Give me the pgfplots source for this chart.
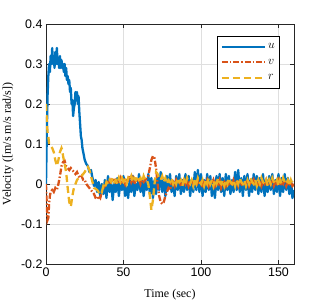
\documentclass[border=0pt]{standalone}
\usepackage{pgfplots}
\pgfplotsset{compat=1.18}
\usepackage{fontspec}
\setmainfont{Liberation Serif}
\newfontfamily\tickfont{Liberation Sans}
\definecolor{mblue}{rgb}{0,0.447,0.741}
\definecolor{morange}{rgb}{0.85,0.325,0.098}
\definecolor{myellow}{rgb}{0.929,0.694,0.125}
\begin{document}
\begin{tikzpicture}
\begin{axis}[
  scale only axis,
  width=248bp, height=240bp,
  xmin=0, xmax=160, ymin=-0.2, ymax=0.4,
  xtick={0,50,100,150},
  ytick={-0.2,-0.1,0,0.1,0.2,0.3,0.4},
  yticklabels={-0.2,-0.1,0,0.1,0.2,0.3,0.4},
  xticklabels={0,50,100,150},
  tick label style={font=\fontsize{12.5}{14}\tickfont},
  grid=major,
  major grid style={gray!25, line width=0.6pt},
  axis line style={black!85, line width=0.6pt},
  tick style={black!85},
  major tick length=4bp,
  every axis y label/.style={at={(axis description cs:-0.153,0.5)}, rotate=90, anchor=center, font=\fontsize{12}{14}\selectfont},
  every axis x label/.style={at={(axis description cs:0.5,-0.127)}, anchor=center, font=\fontsize{12}{14}\selectfont},
  xlabel={Time (sec)},
  ylabel={Velocity ([m/s m/s rad/s])},
  legend style={at={(axis description cs:0.944,0.95)}, anchor=north east, draw=black, line width=0.7pt, fill=white, font=\fontsize{12}{14}\selectfont, row sep=5bp, inner xsep=3bp, inner ysep=5bp},
  legend cell align=left,
  legend image code/.code={\draw[#1] (0bp,0bp) -- (43bp,0bp);},
]
\addplot[mblue, line width=2.3bp, line join=round] coordinates {
(0,0.0)(0.5,0.12)(1,0.22)(1.5,0.27)(2,0.30)(2.5,0.28)(3,0.32)(3.5,0.30)(4,0.34)(4.5,0.30)(5,0.32)(5.5,0.29)(6,0.33)(6.5,0.30)(7,0.34)(7.5,0.30)(8,0.31)(8.5,0.29)(9,0.32)(9.5,0.29)(10,0.31)(10.5,0.29)(11,0.30)(11.5,0.28)(12,0.30)(12.5,0.27)(13,0.29)(13.5,0.26)(14,0.27)(14.5,0.25)(15,0.26)(15.5,0.23)(16,0.24)(16.5,0.20)(17,0.21)(17.5,0.17)(18,0.19)(18.5,0.20)(19,0.23)(19.5,0.21)(20,0.23)(20.5,0.20)(21,0.22)(21.5,0.18)(22,0.15)(22.5,0.12)(23,0.11)(23.5,0.09)(24,0.08)(25,0.06)(26,0.05)(27,0.045)(28,0.03)(29,0.035)
(30,0.015)(31,-0.005)(32,0.01)(33,-0.02)(34,0.005)(35,-0.03)(36,0.0)(37,-0.025)(38,0.01)(39,-0.035)(40,0.02)(41,-0.02)(42,0.005)(43,-0.04)(44,0.0)(45,-0.02)(46,0.015)(47,-0.03)(48,0.005)(49,-0.015)(50,0.02)(51,-0.03)(52,-0.005)(53,-0.035)(54,0.01)(55,-0.02)(56,0.02)(57,-0.03)(58,0.0)(59,-0.015)(60,0.025)(61,-0.02)(62,0.01)(63,-0.03)(64,0.005)(65,-0.015)(66,0.025)(67,-0.025)(68,0.015)(69,-0.035)(70,0.01)(71,-0.025)(72,0.02)(73,-0.015)(74,0.03)(75,-0.02)(76,0.01)(77,-0.03)(78,0.02)(79,-0.01)(80,0.025)(81,-0.02)(82,0.005)(83,-0.03)(84,0.02)(85,-0.015)(86,0.025)(87,-0.025)(88,0.01)(89,-0.02)(90,0.025)(91,-0.015)(92,0.02)(93,-0.03)(94,0.01)(95,-0.02)(96,0.03)(97,-0.015)(98,0.035)(99,-0.02)(100,0.025)(101,-0.03)(102,0.01)(103,-0.02)(104,0.025)(105,-0.015)(106,0.02)(107,-0.03)(108,0.01)(109,-0.035)(110,0.02)(111,-0.015)(112,0.025)(113,-0.02)(114,0.015)(115,-0.03)(116,0.025)(117,-0.015)(118,0.02)(119,-0.025)(120,0.01)(121,-0.02)(122,0.03)(123,-0.015)(124,0.035)(125,-0.02)(126,0.015)(127,-0.03)(128,0.02)(129,-0.015)(130,0.025)(131,-0.03)(132,0.01)(133,-0.02)(134,0.025)(135,-0.015)(136,0.02)(137,-0.025)(138,0.015)(139,-0.02)(140,0.025)(141,-0.03)(142,0.01)(143,-0.02)(144,0.02)(145,-0.015)(146,0.025)(147,-0.025)(148,0.01)(149,-0.02)(150,0.025)(151,-0.03)(152,0.015)(153,-0.02)(154,0.025)(155,-0.015)(156,0.015)(157,-0.025)(158,0.01)(159,-0.035)(160,-0.015)
};
\addlegendentry{$u$}
\addplot[morange, line width=2.3bp, dash pattern=on 6bp off 2bp on 1.5bp off 2bp] coordinates {
(0,0.0)(0.5,-0.05)(1,-0.09)(1.5,-0.085)(2,-0.05)(2.5,-0.03)(3,-0.02)(4,-0.015)(5,-0.02)(6,-0.01)(7,-0.015)(8,0.0)(9,0.02)(10,0.045)(11,0.055)(12,0.058)(13,0.045)(14,0.04)(15,0.035)(16,0.04)(17,0.035)(18,0.03)(19,0.025)(20,0.03)(21,0.02)(22,0.015)(23,0.02)(24,0.01)(25,0.01)(26,0.0)(27,-0.005)(28,-0.01)(29,-0.015)(30,-0.02)(31,-0.025)(32,-0.035)(33,-0.038)(34,-0.03)(35,-0.035)(36,-0.02)(37,-0.01)(38,-0.005)(39,0.0)(40,0.005)(41,0.0)(42,0.01)(43,0.005)(44,0.015)(45,0.005)(46,0.01)(47,0.0)(48,0.015)(49,0.005)(50,0.01)(51,0.0)(52,0.015)(53,0.01)(54,0.02)(55,0.005)(56,0.015)(57,0.0)(58,0.01)(59,0.005)(60,0.015)(61,0.0)(62,0.01)(63,0.005)(64,0.01)(65,0.015)(66,0.02)(67,0.04)(68,0.06)(69,0.07)(70,0.065)(71,0.04)(72,0.0)(73,-0.03)(74,-0.045)(75,-0.05)(76,-0.045)(77,-0.03)(78,-0.02)(79,-0.01)(80,-0.015)(81,0.0)(82,0.005)(83,-0.005)(84,0.01)(85,0.0)(86,0.01)(87,-0.005)(88,0.005)(89,0.01)(90,0.0)(91,0.01)(92,-0.005)(93,0.005)(94,0.01)(95,0.0)(96,0.005)(97,-0.005)(98,0.01)(99,0.0)(100,0.005)(101,-0.01)(102,0.005)(103,0.0)(104,0.01)(105,-0.005)(106,0.005)(107,0.0)(108,0.01)(109,-0.005)(110,0.005)(111,0.0)(112,0.01)(113,-0.01)(114,0.0)(115,0.005)(116,-0.005)(117,0.01)(118,0.0)(119,0.005)(120,-0.005)(121,0.01)(122,0.0)(123,0.005)(124,-0.005)(125,0.01)(126,0.0)(127,-0.005)(128,0.005)(129,0.0)(130,0.01)(131,-0.005)(132,0.005)(133,0.0)(134,0.01)(135,-0.005)(136,0.005)(137,0.0)(138,0.01)(139,-0.005)(140,0.005)(141,0.0)(142,0.01)(143,-0.005)(144,0.005)(145,0.0)(146,0.01)(147,-0.005)(148,0.005)(149,0.0)(150,0.01)(151,-0.005)(152,0.005)(153,0.0)(154,0.01)(155,-0.005)(156,0.005)(157,0.0)(158,0.005)(159,-0.005)(160,0.0)
};
\addlegendentry{$v$}
\addplot[myellow, line width=2.3bp, dash pattern=on 7bp off 4bp] coordinates {
(0,0.2)(0.5,0.16)(1,0.13)(1.5,0.12)(2,0.1)(3,0.095)(4,0.09)(5,0.08)(6,0.06)(7,0.045)(8,0.06)(9,0.08)(10,0.09)(10.5,0.085)(11,0.07)(12,0.05)(13,0.03)(14,-0.01)(15,-0.045)(16,-0.057)(17,-0.03)(18,-0.01)(19,0.0)(20,0.01)(21,0.015)(22,0.018)(23,0.02)(24,0.025)(25,0.03)(26,0.038)(27,0.043)(28,0.035)(29,0.02)(30,0.005)(31,-0.01)(32,-0.012)(33,-0.015)(34,-0.02)(35,-0.015)(36,-0.02)(37,-0.005)(38,-0.01)(39,0.005)(40,0.0)(41,0.01)(42,0.005)(43,0.015)(44,0.005)(45,0.01)(46,0.0)(47,0.015)(48,0.005)(49,0.015)(50,0.005)(51,0.01)(52,0.0)(53,0.015)(54,0.01)(55,0.02)(56,0.005)(57,0.015)(58,0.01)(59,0.02)(60,0.01)(61,0.015)(62,0.005)(63,0.02)(64,0.01)(65,0.01)(66,0.0)(67,-0.03)(68,-0.065)(69,-0.04)(70,0.0)(71,0.03)(72,0.025)(73,0.015)(74,0.01)(75,0.02)(76,0.005)(77,0.015)(78,0.0)(79,0.01)(80,0.005)(81,0.015)(82,0.0)(83,0.01)(84,0.0)(85,0.015)(86,0.005)(87,0.01)(88,-0.005)(89,0.01)(90,0.0)(91,0.015)(92,0.005)(93,0.0)(94,0.01)(95,-0.005)(96,0.01)(97,0.0)(98,0.015)(99,0.005)(100,0.0)(101,0.01)(102,-0.005)(103,0.01)(104,0.0)(105,0.015)(106,0.0)(107,0.01)(108,-0.005)(109,0.01)(110,0.0)(111,0.015)(112,0.005)(113,0.0)(114,0.01)(115,-0.005)(116,0.01)(117,0.0)(118,0.015)(119,0.005)(120,0.0)(121,0.01)(122,-0.005)(123,0.01)(124,0.0)(125,0.015)(126,0.005)(127,0.0)(128,0.01)(129,-0.005)(130,0.01)(131,0.0)(132,0.015)(133,0.005)(134,0.0)(135,0.01)(136,-0.005)(137,0.01)(138,0.0)(139,0.015)(140,0.005)(141,0.0)(142,0.01)(143,-0.005)(144,0.01)(145,0.0)(146,0.015)(147,0.005)(148,0.0)(149,0.01)(150,-0.005)(151,0.01)(152,0.0)(153,0.015)(154,0.005)(155,0.0)(156,0.01)(157,-0.005)(158,0.01)(159,0.0)(160,0.005)
};
\addlegendentry{$r$}
\end{axis}
\pgfresetboundingbox
\path[use as bounding box] (-46bp,-36bp) rectangle (279bp,264bp);
\end{tikzpicture}
\end{document}
